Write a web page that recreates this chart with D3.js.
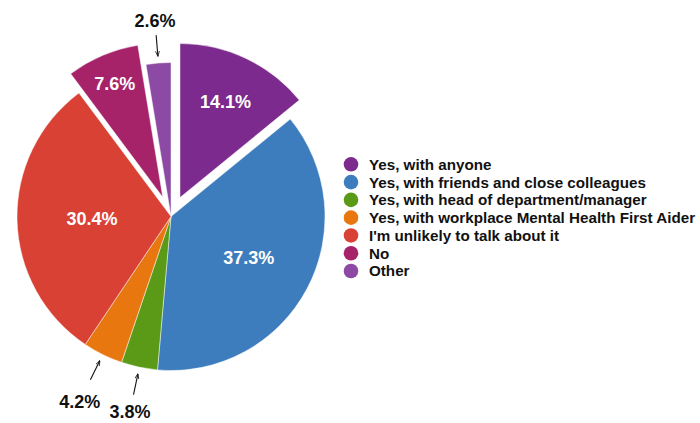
<!DOCTYPE html>
<html>
<head>
<meta charset="utf-8">
<script src="https://cdn.jsdelivr.net/npm/d3@7"></script>
<style>
  html, body { margin: 0; padding: 0; background: #ffffff; }
  svg { display: block; }
  text { font-family: "Liberation Sans", Arial, Helvetica, sans-serif; font-weight: bold; }
</style>
</head>
<body>
<svg id="chart" width="700" height="423"></svg>
<script>
// ---- data ----
const categories = [
  "Yes, with anyone",
  "Yes, with friends and close colleagues",
  "Yes, with head of department/manager",
  "Yes, with workplace Mental Health First Aider",
  "I'm unlikely to talk about it",
  "No",
  "Other"
];
const values = [14.1, 37.3, 3.8, 4.2, 30.4, 7.6, 2.6];
const valueLabels = ["14.1%", "37.3%", "3.8%", "4.2%", "30.4%", "7.6%", "2.6%"];

// ---- styling / layout (not data) ----
const colors = ["#7c2a8d", "#3d7dbd", "#5a9a17", "#e8770f", "#d94134", "#a6236a", "#8d4aa5"];
const exploded = [true, false, false, false, false, true, false];
const labelInside = [true, true, false, false, true, true, false];
const insideLabelRadius = [106, 88, 0, 0, 79, 123, 0];
const outsideLabelGap = [0, 0, 45, 52, 0, 0, 43];

const W = 700, H = 423;
const cx = 171, cy = 216.5, R = 154, explodeDist = 21;

const svg = d3.select("#chart");

const defs = svg.append("defs");
defs.append("marker")
  .attr("id", "arrowhead")
  .attr("viewBox", "0 0 10 10")
  .attr("refX", 9).attr("refY", 5)
  .attr("markerWidth", 5).attr("markerHeight", 5)
  .attr("orient", "auto-start-reverse")
  .append("path")
  .attr("d", "M0,1.5 L10,5 L0,8.5")
  .attr("fill", "none")
  .attr("stroke", "#111")
  .attr("stroke-width", 1.4);

const pie = d3.pie().sort(null).value(d => d.value);
const data = categories.map((c, i) => ({ name: c, value: values[i], label: valueLabels[i], i }));
const arcs = pie(data);

const arc = d3.arc().innerRadius(0).outerRadius(R);

const g = svg.append("g").attr("transform", `translate(${cx},${cy})`);

function mid(d) { return (d.startAngle + d.endAngle) / 2; }
function offset(d) {
  if (!exploded[d.data.i]) return [0, 0];
  const a = mid(d);
  return [Math.sin(a) * explodeDist, -Math.cos(a) * explodeDist];
}

const slices = g.selectAll("g.slice").data(arcs).enter().append("g")
  .attr("class", "slice")
  .attr("transform", d => { const o = offset(d); return `translate(${o[0]},${o[1]})`; });

slices.append("path")
  .attr("d", arc)
  .attr("fill", d => colors[d.data.i])
  .attr("stroke", "#ffffff")
  .attr("stroke-width", 0.8)
  .attr("stroke-opacity", 0.6);

// inside labels
slices.filter(d => labelInside[d.data.i]).append("text")
  .attr("x", d => Math.sin(mid(d)) * insideLabelRadius[d.data.i])
  .attr("y", d => -Math.cos(mid(d)) * insideLabelRadius[d.data.i])
  .attr("text-anchor", "middle")
  .attr("dy", "0.36em")
  .attr("fill", "#ffffff")
  .style("font-size", "18px")
  .text(d => d.data.label);

// outside labels with arrows
const outside = g.selectAll("g.outlabel").data(arcs.filter(d => !labelInside[d.data.i])).enter()
  .append("g").attr("class", "outlabel");

outside.append("line")
  .attr("x1", d => Math.sin(mid(d)) * (R + 28))
  .attr("y1", d => -Math.cos(mid(d)) * (R + 28))
  .attr("x2", d => Math.sin(mid(d)) * (R + 7))
  .attr("y2", d => -Math.cos(mid(d)) * (R + 7))
  .attr("stroke", "#111")
  .attr("stroke-width", 1.1)
  .attr("marker-end", "url(#arrowhead)");

outside.append("text")
  .attr("x", d => Math.sin(mid(d)) * (R + outsideLabelGap[d.data.i]))
  .attr("y", d => -Math.cos(mid(d)) * (R + outsideLabelGap[d.data.i]))
  .attr("text-anchor", "middle")
  .attr("dy", "0.36em")
  .attr("fill", "#111")
  .style("font-size", "18px")
  .text(d => d.data.label);

// legend
const legendY = d3.scalePoint().domain(categories).range([164.3, 271]);
const legend = svg.append("g").attr("class", "legend");
const items = legend.selectAll("g").data(data).enter().append("g")
  .attr("transform", d => `translate(351,${legendY(d.name)})`);
items.append("circle").attr("r", 7.3).attr("fill", d => colors[d.i]);
items.append("text")
  .attr("x", 18)
  .attr("dy", "0.36em")
  .attr("fill", "#111")
  .style("font-size", "15.2px")
  .text(d => d.name);
</script>
</body>
</html>
